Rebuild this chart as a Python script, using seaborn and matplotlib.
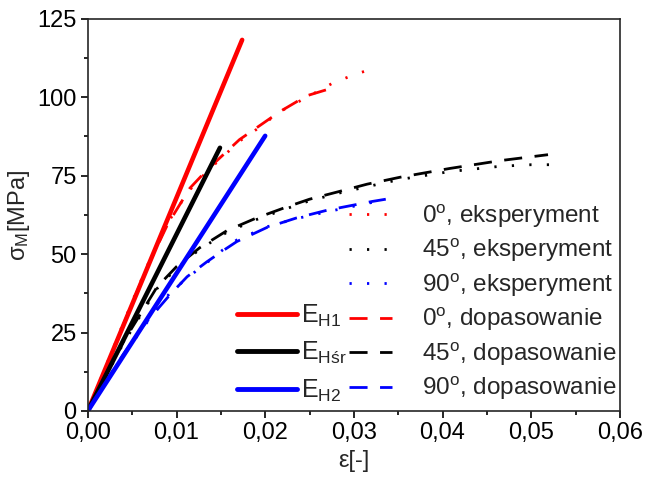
import numpy as np
import pandas as pd
import matplotlib
matplotlib.use("Agg")
import matplotlib.pyplot as plt
from matplotlib.lines import Line2D
from matplotlib.ticker import MultipleLocator, FuncFormatter
import seaborn as sns

# linear moduli lines (solid)
eh1_eps = [0.0, 0.0174]
eh1_sig = [0.0, 118.3]
ehsr_eps = [0.0, 0.0149]
ehsr_sig = [0.0, 83.9]
eh2_eps = [0.0, 0.0200]
eh2_sig = [0.0, 87.7]

# 0 deg
exp0_eps = [0, 0.002, 0.004, 0.00665, 0.009, 0.0115, 0.0135, 0.0152, 0.0171, 0.0194, 0.0217, 0.0247, 0.0276, 0.0303, 0.0328]
exp0_sig = [0, 14, 28, 46, 60, 70.5, 76.5, 81, 86, 90.5, 95.5, 100, 104.5, 107.5, 109.6]
fit0_eps = [0, 0.002, 0.004, 0.00665, 0.009, 0.0115, 0.0135, 0.0152, 0.0171, 0.0194, 0.0217, 0.0247, 0.0282]
fit0_sig = [0, 13.5, 27.5, 45.5, 59.5, 71, 77, 81.5, 86.5, 91, 95.5, 100.5, 103.5]

# 45 deg
exp45_eps = [0, 0.002, 0.004, 0.0078, 0.010, 0.0126, 0.0157, 0.0190, 0.0224, 0.025, 0.0284, 0.0315, 0.0352, 0.0408, 0.0465, 0.050, 0.053]
exp45_sig = [0, 11, 21.5, 39, 45.5, 51.5, 57, 61, 64.5, 67, 69.5, 71.5, 73.8, 76.3, 78, 78.5, 78.5]
fit45_eps = [0, 0.002, 0.004, 0.0078, 0.010, 0.0126, 0.0157, 0.0190, 0.0224, 0.025, 0.0284, 0.0315, 0.0352, 0.0408, 0.0465, 0.0519]
fit45_sig = [0, 11.5, 22, 39.5, 46, 52, 57.5, 61.5, 65, 67.5, 70, 72.3, 74.5, 77.3, 79.8, 81.7]

# 90 deg
exp90_eps = [0, 0.002, 0.004, 0.0062, 0.00925, 0.0112, 0.0134, 0.0152, 0.0168, 0.0202, 0.0235, 0.027, 0.0321, 0.0334]
exp90_sig = [0, 9, 17.5, 26.5, 37.6, 42.4, 47.2, 51.3, 54.5, 58.7, 61.3, 63.5, 66.5, 66.8]
fit90_eps = [0, 0.002, 0.004, 0.0062, 0.00925, 0.0112, 0.0134, 0.0152, 0.0168, 0.0202, 0.0235, 0.027, 0.0321, 0.0336]
fit90_sig = [0, 9.3, 18, 27, 37, 42.8, 47.5, 51, 54, 58.5, 61.5, 64, 66.8, 67.5]

sns.set_style("ticks")
plt.rcParams["font.family"] = ["Liberation Sans", "DejaVu Sans"]
plt.rcParams["mathtext.fontset"] = "custom"
plt.rcParams["mathtext.rm"] = "Liberation Sans"
plt.rcParams["mathtext.it"] = "Liberation Sans"

fig = plt.figure(figsize=(6.46, 4.84), dpi=100)
ax = fig.add_axes([0.136, 0.151, 0.8235, 0.810])

dot = (0, (0.8, 5.5))
dash = (0, (6.5, 4.5))
series = [
    (exp0_eps, exp0_sig, "red", dot),
    (exp45_eps, exp45_sig, "black", dot),
    (exp90_eps, exp90_sig, "blue", dot),
    (fit0_eps, fit0_sig, "red", dash),
    (fit45_eps, fit45_sig, "black", dash),
    (fit90_eps, fit90_sig, "blue", dash),
]
for e, s, c, ls in series:
    df = pd.DataFrame({"eps": e, "sig": s})
    sns.lineplot(data=df, x="eps", y="sig", ax=ax, color=c, lw=2.0,
                 linestyle=ls, sort=False, estimator=None, legend=False)

for e, s, c in [(eh1_eps, eh1_sig, "red"), (ehsr_eps, ehsr_sig, "black"), (eh2_eps, eh2_sig, "blue")]:
    df = pd.DataFrame({"eps": e, "sig": s})
    sns.lineplot(data=df, x="eps", y="sig", ax=ax, color=c, lw=3.3,
                 solid_capstyle="round", sort=False, estimator=None, legend=False)

ax.set_xlim(0, 0.06)
ax.set_ylim(0, 125)
ax.xaxis.set_major_locator(MultipleLocator(0.01))
ax.xaxis.set_minor_locator(MultipleLocator(0.005))
ax.yaxis.set_major_locator(MultipleLocator(25))
ax.yaxis.set_minor_locator(MultipleLocator(12.5))
ax.xaxis.set_major_formatter(FuncFormatter(lambda v, p: f"{v:.2f}".replace(".", ",")))
ax.tick_params(which="both", direction="out", labelsize=17, width=1.2, colors="black", pad=3)
ax.tick_params(which="major", length=5)
ax.tick_params(which="minor", length=3)
for sp in ax.spines.values():
    sp.set_linewidth(1.2)
    sp.set_visible(True)
ax.set_xlabel("ε[-]", fontsize=17, labelpad=4)
ax.set_ylabel(r"$\mathregular{\sigma_M}$[MPa]", fontsize=17, labelpad=4)

h_solid = [Line2D([], [], color=c, lw=3.5, solid_capstyle="round") for c in ["red", "black", "blue"]]
l_solid = [r"$\mathregular{E_{H1}}$", r"$\mathregular{E_{Hśr}}$", r"$\mathregular{E_{H2}}$"]
leg1 = ax.legend(h_solid, l_solid, loc="lower left", bbox_to_anchor=(0.28, 0.018),
                 frameon=False, fontsize=18, handlelength=2.4, handletextpad=0.15,
                 labelspacing=0.45, borderaxespad=0, borderpad=0)
ax.add_artist(leg1)

h_dash = [Line2D([], [], color=c, lw=2, linestyle=ls) for _, _, c, ls in series]
l_dash = [r"0$^{\mathregular{o}}$, eksperyment", r"45$^{\mathregular{o}}$, eksperyment",
          r"90$^{\mathregular{o}}$, eksperyment", r"0$^{\mathregular{o}}$, dopasowanie",
          r"45$^{\mathregular{o}}$, dopasowanie", r"90$^{\mathregular{o}}$, dopasowanie"]
ax.legend(h_dash, l_dash, loc="lower right", bbox_to_anchor=(0.993, 0.022),
          frameon=False, fontsize=17.5, handlelength=1.8, handletextpad=1.2,
          labelspacing=0.3, borderaxespad=0, borderpad=0)

fig.savefig("out.png", dpi=100)
